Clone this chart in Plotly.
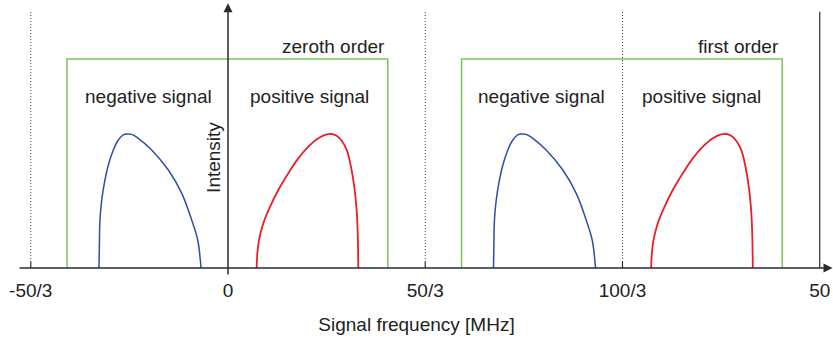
import plotly.graph_objects as go

# ---------------- data ----------------
order_centers = [0.0, 100 / 3]
order_labels = ["zeroth order", "first order"]
tick_vals = [-50 / 3, 0, 50 / 3, 100 / 3, 50]
tick_text = ["-50/3", "0", "50/3", "100/3", "50"]
dotted_x = [-50 / 3, 50 / 3, 100 / 3]
solid_x = [50]

# filter window (green box), relative to order centre
box_rel_x = [-13.6, -13.6, 13.5, 13.5]
box_y = [0.0, 1.56, 1.56, 0.0]

# negative-signal curve (relative to order centre)
neg_rel_x = [-10.90, -10.87, -10.82, -10.67, -10.45, -10.11, -9.69, -9.27, -8.85, -8.56,
             -8.14, -7.58, -6.45, -5.04, -3.91, -3.07, -2.56, -2.34, -2.28]
neg_y = [0.0, 0.159, 0.358, 0.507, 0.632, 0.769, 0.881, 0.955, 0.993, 1.0,
         0.997, 0.968, 0.881, 0.731, 0.557, 0.358, 0.209, 0.060, 0.0]

# positive-signal curve (relative to order centre)
pos_rel_x = [2.42, 2.48, 2.62, 2.98, 3.55, 4.25, 5.10, 5.94, 6.79, 7.63,
             8.34, 8.76, 9.18, 9.61, 10.03, 10.39, 10.67, 10.87, 10.96, 11.01]
pos_y = [0.0, 0.109, 0.209, 0.333, 0.457, 0.582, 0.707, 0.818, 0.905, 0.968,
         0.997, 1.0, 0.987, 0.95, 0.881, 0.756, 0.607, 0.433, 0.259, 0.0]

# ---------------- style ----------------
FONT = "Liberation Sans, Arial, sans-serif"
TXT = "#222222"
AX = "#2b2b2b"
BLUE = "#2f4fa3"
RED = "#ea1f27"
GREEN = "#7cc35a"

fig = go.Figure()

# dotted reference lines with short solid ticks
for xv in dotted_x:
    fig.add_trace(go.Scatter(x=[xv, xv], y=[0.045, 1.925], mode="lines",
                             line=dict(color="#444444", width=1, dash="1px,2px"),
                             hoverinfo="skip", showlegend=False))
    fig.add_trace(go.Scatter(x=[xv, xv], y=[0.0, 0.045], mode="lines",
                             line=dict(color=AX, width=1.2),
                             hoverinfo="skip", showlegend=False))
for xv in solid_x:
    fig.add_trace(go.Scatter(x=[xv, xv], y=[0.0, 1.913], mode="lines",
                             line=dict(color=AX, width=1.2),
                             hoverinfo="skip", showlegend=False))

for c in order_centers:
    fig.add_trace(go.Scatter(x=[c + v for v in box_rel_x], y=box_y, mode="lines",
                             line=dict(color=GREEN, width=1.5),
                             hoverinfo="skip", showlegend=False))
    fig.add_trace(go.Scatter(x=[c + v for v in neg_rel_x], y=neg_y, mode="lines",
                             line=dict(color=BLUE, width=1.5, shape="spline", smoothing=1.1),
                             hoverinfo="skip", showlegend=False))
    fig.add_trace(go.Scatter(x=[c + v for v in pos_rel_x], y=pos_y, mode="lines",
                             line=dict(color=RED, width=1.8, shape="spline", smoothing=1.1),
                             hoverinfo="skip", showlegend=False))

annotations = []
# axes arrows
annotations.append(dict(x=51.08, y=0, ax=-17.74, ay=0, xref="x", yref="y", axref="x", ayref="y",
                        text="", showarrow=True, arrowhead=2, arrowsize=1.2, arrowwidth=1.5,
                        arrowcolor=AX, standoff=0))
annotations.append(dict(x=0, y=1.975, ax=0, ay=-0.06, xref="x", yref="y", axref="x", ayref="y",
                        text="", showarrow=True, arrowhead=2, arrowsize=1.2, arrowwidth=1.5,
                        arrowcolor=AX, standoff=0))

label_font = dict(family=FONT, size=19, color=TXT)
neg_label_rel = [-6.76, -6.88]
pos_label_rel = [6.87, 6.66]
for c, lab, nl, pl in zip(order_centers, order_labels, neg_label_rel, pos_label_rel):
    annotations.append(dict(x=c + 13.42, y=1.653, text=lab, showarrow=False,
                            xanchor="right", yanchor="middle", font=label_font))
    annotations.append(dict(x=c + nl, y=1.28, text="negative signal", showarrow=False,
                            xanchor="center", yanchor="middle", font=label_font))
    annotations.append(dict(x=c + pl, y=1.28, text="positive signal", showarrow=False,
                            xanchor="center", yanchor="middle", font=label_font))

annotations.append(dict(x=-1.23, y=0.825, text="Intensity", textangle=-90, showarrow=False,
                        xanchor="center", yanchor="middle", font=label_font))

fig.update_layout(
    width=833, height=344,
    margin=dict(l=0, r=0, t=0, b=76),
    paper_bgcolor="white", plot_bgcolor="white",
    annotations=annotations,
    xaxis=dict(range=[-19.265, 51.12], tickvals=tick_vals, ticktext=tick_text,
               showgrid=False, zeroline=False, showline=False, ticks="",
               ticklabelstandoff=9, automargin=False,
               tickfont=dict(family=FONT, size=19, color=TXT),
               title=dict(text="Signal frequency [MHz]", font=dict(family=FONT, size=19, color=TXT),
                          standoff=17)),
    yaxis=dict(range=[0, 2.0], visible=False),
    showlegend=False,
)

fig.write_html("out.html", config={"displayModeBar": False},
               post_script="document.body.style.margin='0';document.body.style.overflow='hidden';")
